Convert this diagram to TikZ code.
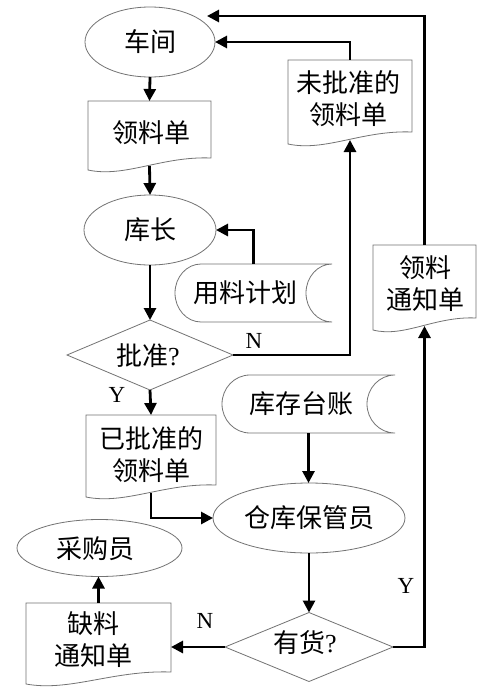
\documentclass[tikz,border=0pt]{standalone}
\usepackage{fontspec}
\setmainfont{Liberation Serif}
\newfontfamily\cjk{Noto Sans CJK SC}
\usetikzlibrary{shapes.geometric,arrows.meta}

\newcommand\docshape[5]{%
  \pgfmathsetmacro\dw{#4-#2}\pgfmathsetmacro\dh{#5-#3}%
  \pgfmathsetmacro\dcx{(#2+#4)/2}\pgfmathsetmacro\dcy{(#3+#5)/2}%
  \node[box, minimum width=\dw pt, minimum height=\dh pt] (#1) at (\dcx,\dcy) {};
  \draw[shapeline] (#2,#3) -- (#4,#3) -- (#4,{#5-8})
    .. controls ({#2+0.6*\dw},{#5-10}) and ({#2+0.3*\dw},{#5+12}) .. (#2,{#5+4}) -- cycle;
}
\newcommand\storeshape[6]{%
  \pgfmathsetmacro\sm{(#3+#5)/2}\pgfmathsetmacro\sk{0.552*(#5-#3)/2}\pgfmathsetmacro\sa{0.552*#6}%
  \pgfmathsetmacro\sw{#4-#2}\pgfmathsetmacro\sh{#5-#3}\pgfmathsetmacro\scx{(#2+#4)/2}%
  \node[box, minimum width=\sw pt, minimum height=\sh pt] (#1) at (\scx,\sm) {};
  \draw[shapeline] ({#2+#6},#3) -- (#4,#3)
    .. controls ({#4-\sa},#3) and ({#4-#6},{\sm-\sk}) .. ({#4-#6},\sm)
    .. controls ({#4-#6},{\sm+\sk}) and ({#4-\sa},#5) .. (#4,#5)
    -- ({#2+#6},#5)
    .. controls ({#2+#6-\sa},#5) and (#2,{\sm+\sk}) .. (#2,\sm)
    .. controls (#2,{\sm-\sk}) and ({#2+#6-\sa},#3) .. ({#2+#6},#3);
}
\newcommand\diashape[5]{%
  \node[box, minimum width=#4pt, minimum height=#5pt] (#1) at (#2,#3) {};
  \draw[shapeline] (#1.north) -- (#1.east) -- (#1.south) -- (#1.west) -- cycle;
}

\begin{document}
\begin{tikzpicture}[x=1pt,y=-1pt,
  shapeline/.style={draw=black!55, line width=0.8pt},
  box/.style={rectangle, draw=none, inner sep=0pt, outer sep=0pt},
  txt/.style={font=\cjk\fontsize{26}{32}\selectfont, align=center, inner sep=0pt},
  ell/.style={ellipse, shapeline, inner sep=0pt, outer sep=0pt, txt},
  lbl/.style={font=\fontsize{23}{25}\selectfont, inner sep=0pt},
  flow/.style={line width=2.8pt, -{Triangle[length=12pt,width=12pt]}}
]
\fill[white] (0,0) rectangle (491,693);
\useasboundingbox (0,0) rectangle (491,693);

% ellipses
\node[ell, minimum width=130pt, minimum height=70pt] (cj) at (150,42) {车间};
\node[ell, minimum width=132pt, minimum height=70pt] (kz) at (150,230) {库长};
\node[ell, minimum width=192pt, minimum height=70pt] (cgy) at (309,518) {仓库保管员};
\node[ell, minimum width=165pt, minimum height=57pt, text width=0pt] (cgy2) at (99.5,548) {};
\node[txt] (cgy2t) at (95,549) {采购员};

% documents
\docshape{ll}{88}{101}{211}{166}
\node[txt] (llt) at (151,133) {领料单};
\docshape{wpz}{288}{60}{412}{140}
\node[txt] (wpzt) at (348,99) {未批准的\\领料单};
\docshape{tzd}{373}{245}{476}{326}
\node[txt] (tzdt) at (425,284) {领料\\通知单};
\docshape{ypz}{86}{415}{216}{493}
\node[txt] (ypzt) at (151,455) {已批准的\\领料单};
\docshape{qltz}{26}{603}{171}{680}
\node[txt] (qltzt) at (93,640) {缺料\\通知单};

% stored data
\storeshape{ylj}{175}{264}{332}{322}{26}
\node[txt] (yljt) at (245,293) {用料计划};
\storeshape{kctz}{222}{375}{395}{433}{28}
\node[txt] (kctzt) at (301,404) {库存台账};

% decisions
\diashape{pz}{150}{355}{166}{70}
\node[txt] (pzt) at (148,356) {批准{\rmfamily ?}};
\diashape{yh}{309}{647}{168}{69}
\node[txt] (yht) at (305,643) {有货{\rmfamily ?}};

% connectors
\coordinate (cjin) at (207,16);
\draw[flow] (cj.south) -- (ll.north);
\draw[flow] (ll.south) -- (kz.north);
\draw[flow] (ylj.north) |- (kz.east);
\draw[flow] (kz.south) -- (pz.north);
\draw[flow] (pz.east) -| (wpz.south);
\draw[flow] (pz.south) -- (ypz.north);
\draw[flow] (wpz.north) |- (cj.east);
\draw[flow] (tzd.north) |- (cjin);
\draw[flow] (yh.east) -| (tzd.south);
\draw[flow] (kctz.south) -- (kctz.south |- cgy.north);
\draw[flow] (ypz.south) |- (cgy.west);
\draw[flow] (cgy.south) -- (yh.north);
\draw[flow] (yh.west) -- (yh.west -| qltz.east);
\draw[flow] (qltz.north) -- (qltz.north |- cgy2.south);

% labels
\node[lbl] (n1) at (254,341) {N};
\node[lbl] (y1) at (117,395) {Y};
\node[lbl] (n2) at (205,621) {N};
\node[lbl] (y2) at (406,586) {Y};
\end{tikzpicture}
\end{document}
